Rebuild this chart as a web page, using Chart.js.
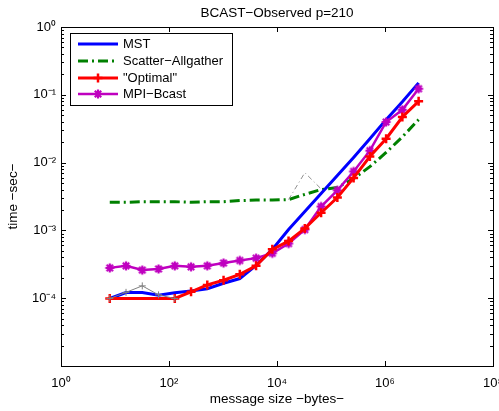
<!DOCTYPE html>
<html>
<head>
<meta charset="utf-8">
<script src="https://cdn.jsdelivr.net/npm/chart.js@4.4.0/dist/chart.umd.min.js"></script>
<style>
  html, body { margin: 0; padding: 0; overflow: hidden; background: #fff; }
  canvas { display: block; }
</style>
</head>
<body>
<canvas id="bcastChart" width="520" height="411"></canvas>
<script>
// message sizes in bytes (2^3 .. 2^22)
const msgSizes = [8, 16, 32, 64, 128, 256, 512, 1024, 2048, 4096, 8192, 16384,
  32768, 65536, 131072, 262144, 524288, 1048576, 2097152, 4194304];

// times in seconds
const mstTime = [9.9e-5, 1.21e-4, 1.21e-4, 1.11e-4, 1.2e-4, 1.28e-4, 1.38e-4, 1.66e-4,
  1.95e-4, 3.05e-4, 5.25e-4, 1.03e-3, 1.9e-3, 3.5e-3, 6.45e-3, 1.19e-2, 2.25e-2,
  4.3e-2, 7.9e-2, 0.15];
const scatterTime = [2.6e-3, 2.6e-3, 2.65e-3, 2.65e-3, 2.65e-3, 2.6e-3, 2.65e-3, 2.65e-3,
  2.75e-3, 2.8e-3, 2.8e-3, 2.85e-3, 3.4e-3, 4.0e-3, 4.3e-3, 5.8e-3, 8.7e-3,
  1.41e-2, 2.4e-2, 4.3e-2];
const optimalTime = [9.9e-5, null, null, null, 9.9e-5, 1.24e-4, 1.57e-4, 1.84e-4,
  2.25e-4, 3.0e-4, 5.25e-4, 6.95e-4, 1.07e-3, 1.82e-3, 3.06e-3, 5.95e-3, 1.23e-2,
  2.25e-2, 4.7e-2, 8.0e-2];
const bcastTime = [2.8e-4, 3.0e-4, 2.6e-4, 2.7e-4, 3.0e-4, 2.9e-4, 3.0e-4, 3.3e-4,
  3.6e-4, 3.9e-4, 4.6e-4, 6.4e-4, 1.03e-3, 2.25e-3, 3.9e-3, 7.4e-3, 1.5e-2,
  3.97e-2, 6.0e-2, 0.123];
// two thin grey helper curves (not in the legend)
const greyPlusTime = [9.9e-5, 1.22e-4, 1.52e-4, 1.12e-4, 9.9e-5, null, null, null,
  null, null, null, null, null, null, null, null, null, null, null, null];
const greyDashTime = [null, null, null, null, null, null, null, null, null, null,
  null, 2.85e-3, 7.1e-3, 4.1e-3, null, null, null, null, null, null];

const xTicks = [1, 1e2, 1e4, 1e6, 1e8];
const yTicks = [1e-4, 1e-3, 1e-2, 1e-1, 1];

const FONT = "'Liberation Sans', Arial, Helvetica, sans-serif";
const sup = { '0': '⁰', '1': '¹', '2': '²', '3': '³', '4': '⁴', '5': '⁵', '6': '⁶',
  '7': '⁷', '8': '⁸', '9': '⁹', '-': '⁻' };
function powLabel(v) {
  const e = String(Math.round(Math.log10(v)));
  return '10' + e.split('').map(c => sup[c]).join('');
}
function pts(arr) {
  return msgSizes.map((s, i) => ({ x: s, y: arr[i] }));
}

// matlab-like asterisk marker for MPI-Bcast
function asteriskMarker(color) {
  const c = document.createElement('canvas');
  c.width = 12; c.height = 12;
  const g = c.getContext('2d');
  g.strokeStyle = color;
  g.lineWidth = 2.2;
  g.lineCap = 'butt';
  g.beginPath();
  g.moveTo(6, 1.5); g.lineTo(6, 10.5);
  g.moveTo(1.5, 6); g.lineTo(10.5, 6);
  g.moveTo(2.8, 2.8); g.lineTo(9.2, 9.2);
  g.moveTo(9.2, 2.8); g.lineTo(2.8, 9.2);
  g.stroke();
  return c;
}
const starImg = asteriskMarker('#bf00bf');

// box + inward ticks on all four sides (matlab style)
const boxPlugin = {
  id: 'box',
  afterDatasetsDraw(chart) {
    const { ctx, chartArea: a, scales } = chart;
    ctx.save();
    ctx.strokeStyle = '#000';
    ctx.lineWidth = 1;
    ctx.beginPath();
    xTicks.forEach(v => {
      const x = Math.round(scales.x.getPixelForValue(v)) + 0.5;
      ctx.moveTo(x, a.bottom); ctx.lineTo(x, a.bottom - 5);
      ctx.moveTo(x, a.top); ctx.lineTo(x, a.top + 5);
    });
    for (let k = -5; k <= 0; k++) {
      for (let m = 1; m <= 9; m++) {
        const v = m * Math.pow(10, k);
        if (v > 1.0001) break;
        const y = Math.round(scales.y.getPixelForValue(v)) + 0.5;
        const len = m === 1 ? 5 : 3;
        ctx.moveTo(a.left, y); ctx.lineTo(a.left + len, y);
        ctx.moveTo(a.right, y); ctx.lineTo(a.right - len, y);
      }
    }
    ctx.stroke();
    ctx.strokeRect(Math.round(a.left) + 0.5, Math.round(a.top) + 0.5,
      Math.round(a.right - a.left), Math.round(a.bottom - a.top));
    ctx.restore();
  }
};

// legend box in the upper left corner of the axes
const legendPlugin = {
  id: 'boxLegend',
  afterDraw(chart) {
    const { ctx, chartArea: a } = chart;
    const items = chart.data.datasets.filter(d => d.inLegend);
    const bx = a.left + 9, by = a.top + 6, bw = 162, bh = 72;
    ctx.save();
    ctx.fillStyle = '#fff';
    ctx.fillRect(bx, by, bw, bh);
    ctx.strokeStyle = '#000';
    ctx.lineWidth = 1;
    ctx.strokeRect(bx + 0.5, by + 0.5, bw, bh);
    items.forEach((d, i) => {
      const y = Math.round(by + 11 + i * 16.8);
      ctx.save();
      ctx.strokeStyle = d.borderColor;
      ctx.lineWidth = d.borderWidth;
      ctx.setLineDash(d.borderDash || []);
      ctx.beginPath();
      ctx.moveTo(bx + 8, y); ctx.lineTo(bx + 48, y);
      ctx.stroke();
      ctx.restore();
      if (d.pointRadius > 0) {
        ctx.save();
        ctx.strokeStyle = d.borderColor;
        ctx.fillStyle = d.borderColor;
        ctx.lineWidth = d.pointBorderWidth;
        Chart.helpers.drawPoint(ctx, {
          pointStyle: d.pointStyle, radius: d.pointRadius,
          borderWidth: d.pointBorderWidth, rotation: 0
        }, bx + 28, y);
        ctx.restore();
      }
      ctx.fillStyle = '#000';
      ctx.font = '13px ' + FONT;
      ctx.textBaseline = 'middle';
      ctx.fillText(d.label, bx + 53, y + 0.5);
    });
    ctx.restore();
  }
};

new Chart(document.getElementById('bcastChart'), {
  type: 'line',
  data: {
    datasets: [
      { label: 'MST', data: pts(mstTime), inLegend: true, order: 3,
        borderColor: '#0000ff', backgroundColor: '#0000ff', borderWidth: 3,
        pointRadius: 0 },
      { label: 'Scatter−Allgather', data: pts(scatterTime), inLegend: true, order: 5,
        borderColor: '#008000', backgroundColor: '#008000', borderWidth: 3,
        borderDash: [10, 4, 2, 4], pointRadius: 0 },
      { label: '"Optimal"', data: pts(optimalTime), inLegend: true, order: 1,
        borderColor: '#ff0000', backgroundColor: '#ff0000', borderWidth: 3,
        pointStyle: 'cross', pointRadius: 4.5, pointBorderWidth: 2.5, spanGaps: true },
      { label: 'MPI−Bcast', data: pts(bcastTime), inLegend: true, order: 2,
        borderColor: '#bf00bf', backgroundColor: '#bf00bf', borderWidth: 2.5,
        pointStyle: starImg, pointRadius: 5, pointBorderWidth: 2 },
      { label: 'grey1', data: pts(greyPlusTime), inLegend: false, order: 0,
        borderColor: '#808080', backgroundColor: '#808080', borderWidth: 1,
        pointStyle: 'cross', pointRadius: 3.5, pointBorderWidth: 1 },
      { label: 'grey2', data: pts(greyDashTime), inLegend: false, order: 4,
        borderColor: '#909090', backgroundColor: '#909090', borderWidth: 1,
        borderDash: [5, 3, 1, 3], pointRadius: 0 }
    ]
  },
  options: {
    responsive: false,
    animation: false,
    layout: { padding: { left: 0, right: 27, top: 0, bottom: 0 } },
    plugins: {
      legend: { display: false },
      tooltip: { enabled: false },
      title: {
        display: true, fullSize: false, text: 'BCAST−Observed p=210', color: '#000',
        font: { family: FONT, size: 13.5, weight: 'normal' },
        padding: { top: 5, bottom: 5.8 }
      }
    },
    scales: {
      x: {
        type: 'logarithmic', min: 1, max: 1e8,
        grid: { display: false, drawTicks: false },
        border: { display: false },
        afterBuildTicks: s => { s.ticks = xTicks.map(v => ({ value: v })); },
        afterFit: s => { s.height = 45; },
        ticks: {
          autoSkip: false, maxRotation: 0, padding: 10, color: '#000',
          font: { family: FONT, size: 13 },
          callback: v => powLabel(v)
        },
        title: {
          display: true, text: 'message size −bytes−', color: '#000',
          font: { family: FONT, size: 13.5 }, padding: { top: 0, bottom: 4 }
        }
      },
      y: {
        type: 'logarithmic', min: 1e-5, max: 1,
        grid: { display: false, drawTicks: false },
        border: { display: false },
        afterBuildTicks: s => { s.ticks = yTicks.map(v => ({ value: v })); },
        afterFit: s => { s.width = 61; },
        ticks: {
          autoSkip: false, padding: 5, color: '#000',
          font: { family: FONT, size: 13 },
          callback: v => powLabel(v)
        },
        title: {
          display: true, text: 'time −sec−', color: '#000',
          font: { family: FONT, size: 13.5 }, padding: { top: 5, bottom: 0 }
        }
      }
    }
  },
  plugins: [boxPlugin, legendPlugin]
});
</script>
</body>
</html>
